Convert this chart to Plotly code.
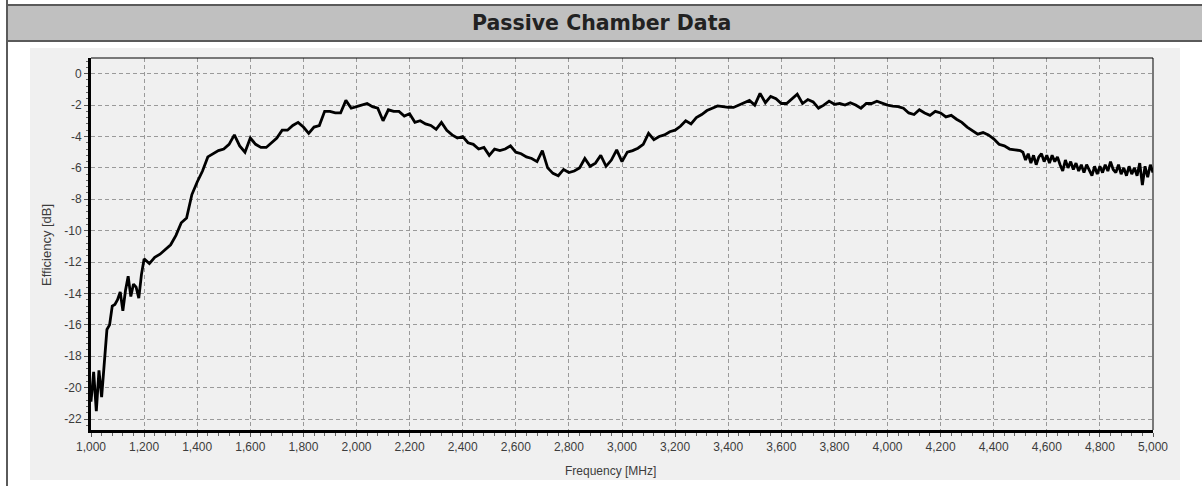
import plotly.graph_objects as go

# ---------------- data ----------------
freq_low = [1000, 1010, 1020, 1030, 1040, 1050, 1060, 1070, 1080, 1090,
            1100, 1110, 1120, 1130, 1140, 1150, 1160, 1170, 1180, 1190]
eff_low = [-20.9, -19.0, -21.5, -18.9, -20.6, -18.6, -16.3, -16.0, -14.8, -14.7,
           -14.4, -13.9, -15.1, -13.8, -12.9, -14.2, -13.4, -13.6, -14.3, -12.8]

freq_mid = list(range(1200, 4501, 20))
eff_mid = [
    -11.8, -12.1, -11.7, -11.5, -11.2, -10.9, -10.3, -9.5, -9.2, -7.7,   # 1200-1380
    -6.9, -6.2, -5.3, -5.1, -4.9, -4.8, -4.5, -3.9, -4.6, -5.0,          # 1400-1580
    -4.1, -4.5, -4.7, -4.7, -4.4, -4.1, -3.6, -3.6, -3.3, -3.1,          # 1600-1780
    -3.4, -3.8, -3.4, -3.3, -2.4, -2.4, -2.5, -2.5, -1.7, -2.2,          # 1800-1980
    -2.1, -2.0, -1.9, -2.1, -2.2, -3.0, -2.3, -2.4, -2.4, -2.7,          # 2000-2180
    -2.55, -3.1, -3.0, -3.2, -3.3, -3.55, -3.1, -3.6, -3.9, -4.1,        # 2200-2380
    -4.0, -4.4, -4.5, -4.8, -4.7, -5.2, -4.8, -4.9, -4.8, -4.6,          # 2400-2580
    -5.0, -5.1, -5.3, -5.4, -5.6, -4.9, -6.0, -6.35, -6.5, -6.1,         # 2600-2780
    -6.3, -6.2, -6.0, -5.4, -5.9, -5.7, -5.2, -5.9, -5.5, -4.85,         # 2800-2980
    -5.6, -5.0, -4.9, -4.75, -4.5, -3.8, -4.2, -4.0, -3.9, -3.7,         # 3000-3180
    -3.6, -3.35, -3.0, -3.2, -2.8, -2.6, -2.35, -2.2, -2.05, -2.1,       # 3200-3380
    -2.15, -2.15, -2.0, -1.8, -1.7, -2.0, -1.25, -1.85, -1.45, -1.6,     # 3400-3580
    -1.9, -1.9, -1.6, -1.3, -1.9, -1.65, -1.8, -2.2, -2.0, -1.75,        # 3600-3780
    -1.95, -1.9, -2.0, -1.85, -2.0, -2.2, -1.9, -1.9, -1.75, -1.9,       # 3800-3980
    -2.0, -2.07, -2.1, -2.2, -2.5, -2.6, -2.3, -2.5, -2.65, -2.4,        # 4000-4180
    -2.5, -2.75, -2.65, -2.9, -3.1, -3.4, -3.6, -3.85, -3.75, -3.9,      # 4200-4380
    -4.15, -4.5, -4.6, -4.8, -4.85, -4.9,                                # 4400-4500
]

freq_tail = list(range(4510, 5001, 10))
eff_tail = [
    -5.0, -5.5, -5.1, -5.7, -5.2, -5.8, -5.3, -5.1, -5.6, -5.2,          # 4510-4600
    -5.7, -5.2, -5.6, -5.3, -5.8, -6.2, -5.5, -6.0, -5.6, -6.1,          # 4610-4700
    -5.7, -6.2, -5.8, -6.3, -5.8, -6.2, -6.5, -5.9, -6.4, -5.9,          # 4710-4800
    -6.3, -5.8, -6.2, -5.6, -6.1, -6.3, -5.8, -6.4, -6.0, -6.5,          # 4810-4900
    -5.9, -6.4, -6.0, -6.5, -5.7, -7.1, -5.9, -6.6, -5.8, -6.3,          # 4910-5000
]

x_tick_vals = list(range(1000, 5001, 200))
x_tick_text = [f"{v:,}" for v in x_tick_vals]
y_tick_vals = list(range(0, -23, -2))
y_tick_text = [str(v) for v in y_tick_vals]

title_text = "Passive Chamber Data"
x_title = "Frequency [MHz]"
y_title = "Efficiency [dB]"

freq = freq_low + freq_mid + freq_tail
eff = eff_low + eff_mid + eff_tail

# ---------------- layout helpers (pixel -> paper) ----------------
W, H = 1202, 486
L, R, T, B = 91, 1153, 58, 430


def px(x):
    return (x - L) / (R - L)


def py(y):
    return (B - y) / (B - T)


fig = go.Figure()
fig.add_trace(go.Scatter(x=freq, y=eff, mode="lines",
                         line=dict(color="#000000", width=2.8),
                         hoverinfo="x+y", showlegend=False))

tick_font = dict(family="Liberation Sans, Arial, sans-serif", size=12, color="#3c3c3c")

fig.update_layout(
    width=W, height=H, autosize=False,
    margin=dict(l=L, r=W - R, t=T, b=H - B, pad=0),
    paper_bgcolor="#ffffff",
    plot_bgcolor="rgba(0,0,0,0)",
    showlegend=False,
    xaxis=dict(
        range=[1000, 5000], tickvals=x_tick_vals, ticktext=x_tick_text,
        showline=True, linecolor="#000000", linewidth=3,
        ticks="outside", ticklen=4, tickcolor="#555555", tickwidth=1,
        showgrid=True, gridcolor="#9a9a9a", gridwidth=1, griddash="4px,3px",
        zeroline=False, tickfont=tick_font,
        minor=dict(dtick=40, ticks="outside", ticklen=3, tickcolor="#666666", showgrid=False),
    ),
    yaxis=dict(
        range=[-22.7, 1.0], tickvals=y_tick_vals, ticktext=y_tick_text,
        showline=True, linecolor="#000000", linewidth=3,
        ticks="outside", ticklen=4, tickcolor="#555555", tickwidth=1,
        showgrid=True, gridcolor="#9a9a9a", gridwidth=1, griddash="4px,3px",
        zeroline=False, tickfont=tick_font,
        minor=dict(dtick=0.4, ticks="outside", ticklen=2, tickcolor="#666666", showgrid=False),
    ),
)

shapes = [
    # light grey chart panel
    dict(type="rect", xref="paper", yref="paper", layer="below",
         x0=px(30), x1=px(1180), y0=py(480), y1=py(48),
         fillcolor="#f0f0f0", line=dict(width=0)),
    # title bar
    dict(type="rect", xref="paper", yref="paper", layer="below",
         x0=px(7), x1=px(1210), y0=py(41), y1=py(5),
         fillcolor="#c0c0c0", line=dict(color="#5a5a5a", width=2)),
    # outer left frame line
    dict(type="line", xref="paper", yref="paper", layer="above",
         x0=px(7), x1=px(7), y0=py(490), y1=py(-5),
         line=dict(color="#5a5a5a", width=2)),
    # thin top/right plot border
    dict(type="line", xref="paper", yref="paper", layer="above",
         x0=0, x1=1, y0=1, y1=1, line=dict(color="#000000", width=1)),
    dict(type="line", xref="paper", yref="paper", layer="above",
         x0=1, x1=1, y0=0, y1=1, line=dict(color="#000000", width=1)),
]
fig.update_layout(shapes=shapes)

fig.add_annotation(text=f"<b>{title_text}</b>", xref="paper", yref="paper",
                   x=px(601), y=py(23), showarrow=False, xanchor="center", yanchor="middle",
                   font=dict(family="DejaVu Sans, sans-serif", size=20.5, color="#222222"))
fig.add_annotation(text=x_title, xref="paper", yref="paper",
                   x=px(610), y=py(471), showarrow=False, xanchor="center", yanchor="middle",
                   font=dict(family="Liberation Sans, Arial, sans-serif", size=12, color="#3c3c3c"))
fig.add_annotation(text=y_title, xref="paper", yref="paper", textangle=-90,
                   x=px(46), y=py(245), showarrow=False, xanchor="center", yanchor="middle",
                   font=dict(family="Liberation Sans, Arial, sans-serif", size=13, color="#3c3c3c"))

# remove the default 8px body margin so the figure sits at the window origin
fig.write_html("out.html", config={"displayModeBar": False},
               post_script="document.body.style.margin='0';document.body.style.overflow='hidden';")
